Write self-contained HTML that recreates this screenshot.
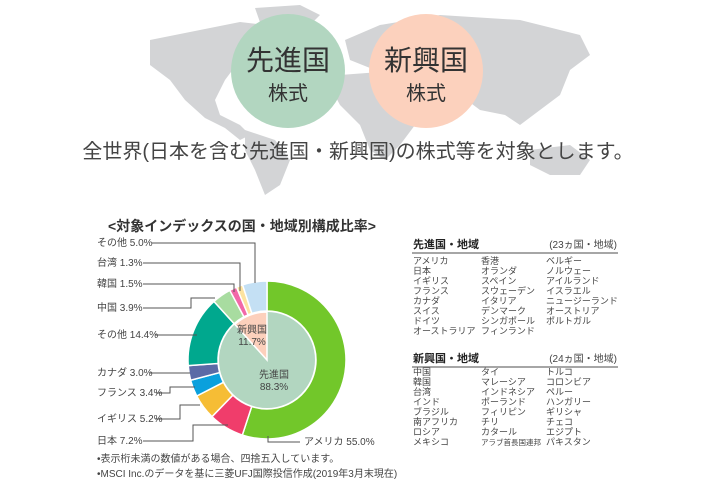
<!DOCTYPE html>
<html><head><meta charset="utf-8"><style>
body{margin:0;width:716px;height:485px;background:#fff;overflow:hidden;font-family:"Liberation Sans","Noto Sans CJK JP",sans-serif;color:#333}
svg{position:absolute;left:0;top:0}
</style></head><body>
<svg width="716" height="485" viewBox="0 0 716 485" id="s">
<g fill="#d3d4d6">
<path d="M150,40 L200,30 L240,22 L265,25 L250,45 L240,60 L225,80 L215,100 L220,115 L240,125 L250,135 L240,140 L225,128 L205,118 L185,100 L170,80 L150,65 Z"/>
<path d="M255,8 L300,5 L320,15 L300,35 L280,40 L262,28 Z"/>
<path d="M245,130 L275,140 L290,160 L280,185 L265,195 L255,170 L245,150 Z"/>
<path d="M345,40 L380,25 L440,15 L520,20 L580,35 L590,55 L570,70 L560,95 L540,110 L520,125 L505,115 L480,110 L460,95 L440,80 L410,70 L370,68 L350,60 Z"/>
<path d="M340,75 L380,72 L405,85 L420,100 L415,125 L400,145 L385,160 L370,150 L360,125 L340,105 L332,90 Z"/>
<path d="M530,150 L570,145 L590,160 L580,175 L550,175 L530,165 Z"/>
</g>
<ellipse cx="288" cy="71" rx="57" ry="57" fill="#b2d6c0"/>
<ellipse cx="426" cy="71" rx="57" ry="57" fill="#fcd1bd"/>
<g fill="#333" text-anchor="middle">
<text x="288" y="70" font-size="28">先進国</text>
<text x="288" y="100" font-size="20">株式</text>
<text x="426" y="70" font-size="28">新興国</text>
<text x="426" y="100" font-size="20">株式</text>
<text x="358" y="158" font-size="20" fill="#444">全世界(日本を含む先進国・新興国)の株式等を対象とします。</text>
<text x="242" y="231" font-size="14" font-weight="bold">&lt;対象インデックスの国・地域別構成比率&gt;</text>
</g>
<g id="pie"></g>
<g stroke="#555" stroke-width="1" fill="none">
<polyline points="152,243 255,243 255,283"/>
<polyline points="143,263 240,263 240,291"/>
<polyline points="143,284 234,284 234,292"/>
<polyline points="143,308 191,308 191,298 215,298"/>
<polyline points="155,335 197,335"/>
<polyline points="150,373 190,373"/>
<polyline points="156,393 170,393 170,387 195,387"/>
<polyline points="155,419 180,419 180,405 200,405"/>
<polyline points="143,441 193,441 193,425 228,425"/>
<polyline points="268,436 268,442 300,442"/>
</g>
<g font-size="10" fill="#444">
<text x="97" y="246">その他 5.0%</text>
<text x="97" y="266">台湾 1.3%</text>
<text x="97" y="287">韓国 1.5%</text>
<text x="97" y="311">中国 3.9%</text>
<text x="97" y="338">その他 14.4%</text>
<text x="97" y="376">カナダ 3.0%</text>
<text x="97" y="396">フランス 3.4%</text>
<text x="97" y="422">イギリス 5.2%</text>
<text x="97" y="444">日本 7.2%</text>
<text x="304" y="445">アメリカ 55.0%</text>
<text x="252" y="333" text-anchor="middle">新興国</text>
<text x="252" y="345" text-anchor="middle">11.7%</text>
<text x="274" y="378" text-anchor="middle">先進国</text>
<text x="274" y="390" text-anchor="middle">88.3%</text>
<text x="97" y="462">•表示桁未満の数値がある場合、四捨五入しています。</text>
<text x="97" y="477">•MSCI Inc.のデータを基に三菱UFJ国際投信作成(2019年3月末現在)</text>
</g>
<g font-size="9" fill="#444">
<text x="413" y="248" font-weight="bold" font-size="11" fill="#222">先進国・地域</text>
<text x="617" y="248" text-anchor="end" font-size="10">(23ヵ国・地域)</text>
<line x1="412" y1="253" x2="618" y2="253" stroke="#888" stroke-width="1.5"/>
<text x="413" y="362" font-weight="bold" font-size="11" fill="#222">新興国・地域</text>
<text x="617" y="362" text-anchor="end" font-size="10">(24ヵ国・地域)</text>
<line x1="412" y1="367" x2="618" y2="367" stroke="#888" stroke-width="1.5"/>
<g id="tbl"></g>
</g>
</svg>
<script>
var NS="http://www.w3.org/2000/svg",cx=267,cy=360,R=79,r=48;
function pt(a,rad){a=(a-90)*Math.PI/180;return [cx+rad*Math.cos(a),cy+rad*Math.sin(a)];}
function arc(a0,a1,ro,ri){var p1=pt(a0,ro),p2=pt(a1,ro),p3=pt(a1,ri),p4=pt(a0,ri),l=(a1-a0)>180?1:0;
return "M"+p1+"A"+ro+","+ro+" 0 "+l+" 1 "+p2+"L"+p3+(ri>0?"A"+ri+","+ri+" 0 "+l+" 0 "+p4:"")+"Z";}
var g=document.getElementById("pie");
function add(d,f,s){var e=document.createElementNS(NS,"path");e.setAttribute("d",d);e.setAttribute("fill",f);if(s){e.setAttribute("stroke","#fff");e.setAttribute("stroke-width","1.5");}g.appendChild(e);}
var segs=[[55,"#72c72a"],[7.2,"#f03d6b"],[5.2,"#f6bd35"],[3.4,"#0aa0dd"],[3.0,"#5b6aa6"],[14.4,"#00a88e"],[3.9,"#a8dca0"],[1.5,"#f268a8"],[1.3,"#fde3a0"],[5.0,"#c4e0f4"]];
var tot=0;segs.forEach(function(s){tot+=s[0];});var a=0;
segs.forEach(function(s){var w=s[0]/tot*360;add(arc(a,a+w,R,r+1),s[1],1);a+=w;});
var c=document.createElementNS(NS,"circle");c.setAttribute("cx",cx);c.setAttribute("cy",cy);c.setAttribute("r",r);c.setAttribute("fill","#b2d6c0");g.appendChild(c);
add(arc(360-42.1,360,r,0),"#fcd0bc",1);
var t=document.getElementById("tbl");
function col(x,y,arr){arr.forEach(function(s,i){var e=document.createElementNS(NS,"text");e.setAttribute("x",x);e.setAttribute("y",y+i*10);e.textContent=s;t.appendChild(e);});}
col(413,264,["アメリカ","日本","イギリス","フランス","カナダ","スイス","ドイツ","オーストラリア"]);
col(481,264,["香港","オランダ","スペイン","スウェーデン","イタリア","デンマーク","シンガポール","フィンランド"]);
col(546,264,["ベルギー","ノルウェー","アイルランド","イスラエル","ニュージーランド","オーストリア","ポルトガル"]);
col(413,375,["中国","韓国","台湾","インド","ブラジル","南アフリカ","ロシア","メキシコ"]);
col(481,375,["タイ","マレーシア","インドネシア","ポーランド","フィリピン","チリ","カタール"]);
col(546,375,["トルコ","コロンビア","ペルー","ハンガリー","ギリシャ","チェコ","エジプト","パキスタン"]);
var e=document.createElementNS(NS,"text");e.setAttribute("x",481);e.setAttribute("y",445);e.setAttribute("font-size","7.5");e.textContent="アラブ首長国連邦";t.appendChild(e);
</script>
</body></html>
